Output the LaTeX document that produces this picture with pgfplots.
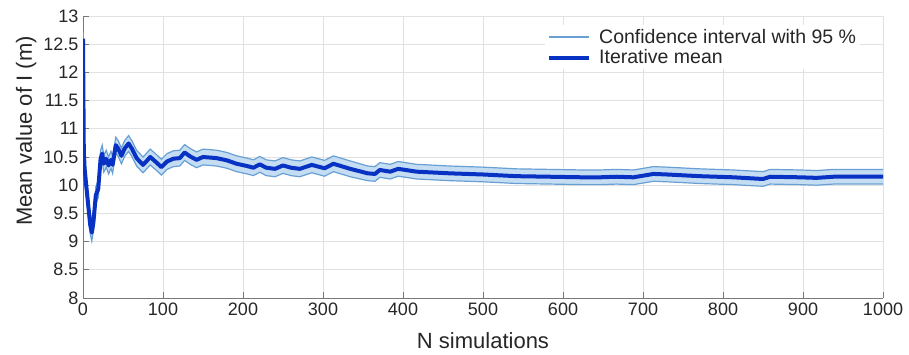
\documentclass[border=0pt]{standalone}
\usepackage{pgfplots}
\pgfplotsset{compat=1.18}
\usepgfplotslibrary{fillbetween}
\usepackage{fontspec}
\setmainfont{Liberation Sans}
\definecolor{bandfill}{RGB}{196,221,243}
\definecolor{bandedge}{RGB}{105,160,212}
\definecolor{meanline}{RGB}{8,50,195}
\definecolor{gridc}{RGB}{225,225,225}
\definecolor{axc}{RGB}{120,120,120}
\pgfplotstableread{
x m lo hi
0 12.60 12.45 12.72
1 10.60 10.42 10.78
2 10.30 10.12 10.48
4 10.00 9.83 10.17
7 9.58 9.42 9.74
9 9.30 9.14 9.46
11 9.16 9.01 9.31
13 9.34 9.19 9.49
16 9.82 9.67 9.97
19 9.93 9.78 10.08
22 10.47 10.32 10.62
24 10.56 10.41 10.71
26 10.38 10.23 10.53
29 10.47 10.32 10.62
32 10.35 10.20 10.50
35 10.45 10.30 10.60
37 10.36 10.21 10.51
41 10.71 10.57 10.85
44 10.65 10.51 10.79
48 10.52 10.38 10.66
52 10.65 10.51 10.79
57 10.74 10.60 10.88
61 10.65 10.51 10.79
67 10.48 10.34 10.62
75 10.36 10.22 10.50
79 10.42 10.28 10.56
84 10.50 10.36 10.64
92 10.40 10.26 10.54
98 10.32 10.18 10.46
105 10.42 10.28 10.56
113 10.47 10.33 10.61
121 10.48 10.34 10.62
127 10.58 10.44 10.72
134 10.51 10.37 10.65
142 10.45 10.31 10.59
150 10.50 10.36 10.64
159 10.49 10.35 10.63
167 10.48 10.34 10.62
180 10.44 10.30 10.58
192 10.38 10.24 10.52
205 10.34 10.20 10.48
213 10.31 10.17 10.45
221 10.37 10.23 10.51
229 10.31 10.17 10.45
240 10.29 10.15 10.43
250 10.35 10.21 10.49
260 10.31 10.17 10.45
271 10.29 10.15 10.43
286 10.36 10.22 10.50
302 10.30 10.16 10.44
313 10.38 10.24 10.52
334 10.29 10.15 10.43
356 10.21 10.08 10.34
365 10.20 10.07 10.33
371 10.27 10.14 10.40
384 10.24 10.11 10.37
394 10.29 10.16 10.42
417 10.24 10.11 10.37
459 10.21 10.08 10.34
500 10.19 10.06 10.32
542 10.16 10.03 10.29
584 10.15 10.02 10.28
625 10.14 10.01 10.27
646 10.14 10.01 10.27
667 10.15 10.02 10.28
688 10.14 10.01 10.27
705 10.18 10.05 10.31
713 10.20 10.07 10.33
730 10.19 10.06 10.32
771 10.16 10.03 10.29
813 10.14 10.01 10.27
850 10.11 9.98 10.24
859 10.15 10.02 10.28
896 10.14 10.01 10.27
917 10.13 10.00 10.26
938 10.15 10.02 10.28
979 10.15 10.02 10.28
1000 10.15 10.02 10.28
}\datatable
\begin{document}
\begin{tikzpicture}
\begin{axis}[
  name=ax,
  width=800pt, height=282pt, scale only axis,
  xmin=0, xmax=1000, ymin=8, ymax=13,
  xtick={0,100,...,1000},
  ytick={8,8.5,...,13},
  yticklabels={8,8.5,9,9.5,10,10.5,11,11.5,12,12.5,13},
  /pgf/number format/1000 sep={},
  axis lines=left,
  axis line style={-, draw=axc, line width=1pt},
  tick style={draw=axc, line width=0.8pt},
  tick align=inside,
  major tick length=6pt,
  grid=major,
  major grid style={draw=gridc, line width=0.8pt},
  /pgf/number format/assume math mode=true,
  ticklabel style={font=\fontsize{18}{20}\selectfont, text=black!85},
  xticklabel style={yshift=-1pt},
  yticklabel style={xshift=-1pt},
  xlabel={N simulations},
  ylabel={Mean value of I (m)},
  label style={font=\fontsize{22}{24}\selectfont, text=black!85},
  xlabel style={at={(axis description cs:0.5,0)}, anchor=base, yshift=-50pt},
  ylabel style={at={(axis description cs:0,0.592)}, anchor=base, rotate=0, yshift=51pt},
  legend style={at={(rel axis cs:0.5775,0.968)}, anchor=north west, draw=none, fill=white,
    font=\fontsize{19.5}{22}\selectfont, text=black!85, inner sep=2pt,
    row sep=1pt, column sep=6pt},
  legend cell align=left,
  legend image code/.code={\draw[#1] (0pt,0pt) -- (40pt,0pt);},
]
\addplot[name path=hi, draw=bandedge, line width=1.2pt] table[x=x,y=hi]{\datatable};
\addlegendentry{Confidence interval with 95 \%}
\addplot[name path=lo, draw=bandedge, line width=1.2pt, forget plot] table[x=x,y=lo]{\datatable};
\addplot[bandfill, forget plot] fill between[of=hi and lo];
\addplot[draw=meanline, line width=4pt, line join=round] table[x=x,y=m]{\datatable};
\addlegendentry{Iterative mean}
\end{axis}
\pgfresetboundingbox
\path (ax.south west) ++(-83pt,-56pt) coordinate (bl);
\path (ax.north east) ++(26pt,16pt) coordinate (tr);
\path (bl) rectangle (tr);
\end{tikzpicture}
\end{document}
